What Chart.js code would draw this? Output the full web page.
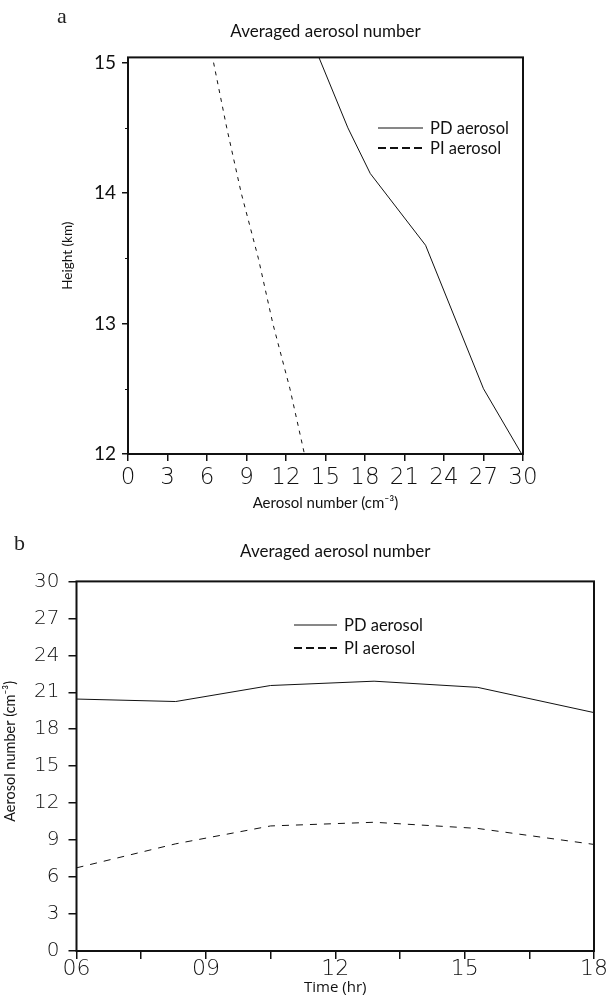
<!DOCTYPE html>
<html>
<head>
<meta charset="utf-8">
<script src="https://cdn.jsdelivr.net/npm/chart.js@4.4.1/dist/chart.umd.min.js"></script>
<style>
  body { margin: 0; background: #fff; }
  #page { position: relative; width: 606px; height: 1004px; overflow: hidden; }
  canvas { position: absolute; left: 0; }
  #chartA { top: 0; }
  #chartB { top: 520px; }
  .panel { position: absolute; font-family: 'Liberation Serif', serif; font-size: 22px; line-height: 22px; color: #222; }
</style>
</head>
<body>
<div id="page">
  <canvas id="chartA" width="606" height="520"></canvas>
  <canvas id="chartB" width="606" height="484"></canvas>
  <div class="panel" style="left:57px; top:5px;">a</div>
  <div class="panel" style="left:14px; top:532px;">b</div>
</div>
<script>
// (a) vertical profile, height in km vs aerosol number
const heightPD = [15.04, 14.5, 14.15, 13.6, 12.5, 12];
const numberPD = [14.5, 16.7, 18.4, 22.6, 27.0, 29.9];
const heightPI = [15, 14.5, 14, 13.5, 13, 12.5, 12];
const numberPI = [6.5, 7.5, 8.6, 9.9, 11.0, 12.3, 13.4];
const heightTicks = [12, 13, 14, 15];

// (b) time series, hour of day vs aerosol number
const hours = [6, 8.3, 10.5, 12.9, 15.3, 18];
const dailyPD = [20.45, 20.25, 21.55, 21.9, 21.4, 19.35];
const dailyPI = [6.75, 8.7, 10.15, 10.45, 9.95, 8.65];

const seriesNames = ['PD aerosol', 'PI aerosol'];
const titleText = 'Averaged aerosol number';

const ink = '#111';
const tickFont = { family: 'DejaVu Sans', weight: 200 };

function pairs(xs, ys) {
  return xs.map((x, i) => ({ x: x, y: ys[i] }));
}

// box round the plot area
const framePlugin = {
  id: 'frame',
  afterDatasetsDraw(chart) {
    const a = chart.chartArea;
    const ctx = chart.ctx;
    ctx.save();
    ctx.strokeStyle = ink;
    ctx.lineWidth = 2;
    ctx.strokeRect(a.left, a.top, a.right - a.left, a.bottom - a.top);
    ctx.restore();
  }
};

// line samples + names, like the original legend
const lineLegend = {
  id: 'lineLegend',
  afterDraw(chart, args, opts) {
    const ctx = chart.ctx;
    ctx.save();
    ctx.font = opts.fontSize + 'px Lato';
    ctx.fillStyle = ink;
    ctx.strokeStyle = ink;
    ctx.textBaseline = 'middle';
    chart.data.datasets.forEach((ds, i) => {
      const y = opts.top + i * opts.row;
      ctx.lineWidth = opts.widths[i];
      ctx.setLineDash(opts.dashes[i]);
      ctx.beginPath();
      ctx.moveTo(opts.left, y);
      ctx.lineTo(opts.left + opts.lineLen, y);
      ctx.stroke();
      ctx.setLineDash([]);
      ctx.fillText(ds.label, opts.left + opts.lineLen + opts.gap, y + 1);
    });
    ctx.restore();
  }
};

// short ticks half way between labelled heights
const minorTicks = {
  id: 'minorTicks',
  afterDraw(chart, args, opts) {
    if (!opts.enabled) return;
    const s = chart.scales.y;
    const ctx = chart.ctx;
    ctx.save();
    ctx.strokeStyle = ink;
    ctx.lineWidth = 1;
    for (let i = 0; i < heightTicks.length - 1; i++) {
      const py = Math.round(s.getPixelForValue((heightTicks[i] + heightTicks[i + 1]) / 2)) + 0.5;
      ctx.beginPath();
      ctx.moveTo(chart.chartArea.left - 3, py);
      ctx.lineTo(chart.chartArea.left, py);
      ctx.stroke();
    }
    ctx.restore();
  }
};

Chart.register(framePlugin, lineLegend, minorTicks);

// Panel a
new Chart(document.getElementById('chartA'), {
  type: 'line',
  data: {
    datasets: [
      { label: seriesNames[0], data: pairs(numberPD, heightPD), borderColor: ink, borderWidth: 1, pointRadius: 0, tension: 0 },
      { label: seriesNames[1], data: pairs(numberPI, heightPI), borderColor: ink, borderWidth: 1, borderDash: [4, 5], pointRadius: 0, tension: 0 }
    ]
  },
  options: {
    responsive: false,
    animation: false,
    layout: { padding: { left: 0, right: 83, top: 0, bottom: 0 } },
    plugins: {
      legend: { display: false },
      tooltip: { enabled: false },
      title: {
        display: true, text: titleText, fullSize: false, color: ink,
        font: { family: 'Lato', size: 17, weight: 'normal', lineHeight: 1.2 },
        padding: { top: 21, bottom: 16 }
      },
      lineLegend: { left: 378, top: 128, row: 20, lineLen: 45, gap: 7, fontSize: 16.5, widths: [1, 2], dashes: [[], [8, 4]] },
      minorTicks: { enabled: true }
    },
    scales: {
      x: {
        type: 'linear', min: 0, max: 30,
        afterFit: s => { s.height = 66; },
        border: { display: false },
        grid: { drawOnChartArea: false, tickLength: 7, color: ink, lineWidth: 1.5 },
        ticks: { stepSize: 3, padding: 3, color: ink, font: Object.assign({ size: 23, lineHeight: 1.2 }, tickFont), maxRotation: 0 },
        title: { display: true, text: 'Aerosol number (cm⁻³)', color: ink, font: { family: 'Lato', size: 15, lineHeight: 1.2 }, padding: { top: 0, bottom: 8 } }
      },
      y: {
        type: 'linear', min: 12, max: 15.04,
        afterBuildTicks: s => { s.ticks = heightTicks.map(v => ({ value: v })); },
        afterFit: s => { s.width = 128; },
        border: { display: false },
        grid: { drawOnChartArea: false, tickLength: 6, color: ink, lineWidth: 1.5 },
        ticks: { padding: 6, color: ink, font: { family: 'Lato', size: 19 } },
        title: { display: true, text: 'Height (km)', color: ink, font: { family: 'Lato', size: 13.5, lineHeight: 1.2 }, padding: { top: 60, bottom: 0 } }
      }
    }
  }
});

// Panel b
new Chart(document.getElementById('chartB'), {
  type: 'line',
  data: {
    datasets: [
      { label: seriesNames[0], data: pairs(hours, dailyPD), borderColor: ink, borderWidth: 1, pointRadius: 0, tension: 0 },
      { label: seriesNames[1], data: pairs(hours, dailyPI), borderColor: ink, borderWidth: 1, borderDash: [7, 7], pointRadius: 0, tension: 0 }
    ]
  },
  options: {
    responsive: false,
    animation: false,
    layout: { padding: { left: 0, right: 12, top: 0, bottom: 0 } },
    plugins: {
      legend: { display: false },
      tooltip: { enabled: false },
      title: {
        display: true, text: titleText, fullSize: false, color: ink,
        font: { family: 'Lato', size: 17, weight: 'normal', lineHeight: 1.2 },
        padding: { top: 21, bottom: 20 }
      },
      lineLegend: { left: 294, top: 105, row: 23, lineLen: 43, gap: 7, fontSize: 16.5, widths: [1, 2], dashes: [[], [8, 4]] },
      minorTicks: { enabled: false }
    },
    scales: {
      x: {
        type: 'linear', min: 6, max: 18,
        afterFit: s => { s.height = 53; s.paddingRight = 0; },
        border: { display: false },
        grid: { drawOnChartArea: false, tickLength: 8, color: ink, lineWidth: 1.5 },
        ticks: {
          stepSize: 1.5, padding: -3, color: ink, maxRotation: 0, autoSkip: false,
          font: Object.assign({ size: 22, lineHeight: 1.2 }, tickFont),
          callback: v => (v % 3 === 0 ? String(v).padStart(2, '0') : '')
        },
        title: { display: true, text: 'Time (hr)', color: ink, font: { family: 'Open Sans', size: 15, lineHeight: 1.2 }, padding: { top: 0, bottom: 7 } }
      },
      y: {
        type: 'linear', min: 0, max: 30,
        afterFit: s => { s.width = 76.5; },
        border: { display: false },
        grid: { drawOnChartArea: false, tickLength: 8, color: ink, lineWidth: 1.5 },
        ticks: { stepSize: 3, padding: 9, color: ink, font: Object.assign({ size: 20 }, tickFont) },
        title: { display: true, text: '        Aerosol number (cm⁻³)', color: ink, font: { family: 'Lato', size: 14.5, lineHeight: 1.2 }, padding: { top: 2, bottom: 0 } }
      }
    }
  }
});
</script>
</body>
</html>
